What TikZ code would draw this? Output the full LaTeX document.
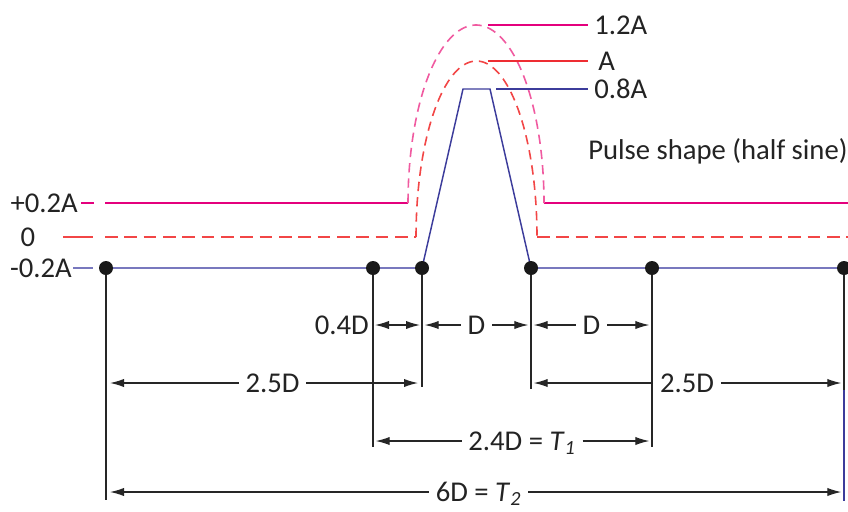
\documentclass[tikz,border=0pt]{standalone}
\usepackage{fontspec}
\setmainfont{Carlito}
\usetikzlibrary{arrows.meta}
\definecolor{mag}{RGB}{228,0,125}
\definecolor{magd}{RGB}{240,90,160}
\definecolor{redl}{RGB}{238,45,50}
\definecolor{redd}{RGB}{242,70,70}
\definecolor{blu}{RGB}{60,60,155}
\definecolor{blul}{RGB}{120,120,190}
\definecolor{txt}{RGB}{35,35,35}
\begin{document}
\begin{tikzpicture}[x=0.75pt,y=-0.75pt,
  font=\fontsize{21.5}{25}\selectfont,
  >={Latex[length=10.5pt,width=6.2pt]},
  lab/.style={inner sep=0pt,text=txt,text height=13.8pt,text depth=0pt},
  dimlab/.style={lab,inner xsep=5pt},
  dot/.style={circle,fill=black!90,inner sep=0pt,minimum size=10.5pt},
  ext/.style={draw=black!85,line width=0.8pt},
  dimarr/.style={->,draw=black!85,line width=0.9pt},
  dimarrb/.style={<->,draw=black!85,line width=0.9pt},
  cline/.style={line width=1.3pt},
  sdash/.style={cline,dash pattern=on 9.5pt off 5pt},
  cdash/.style={line width=1.2pt,dash pattern=on 7pt off 4.5pt}]
\useasboundingbox (0,0) rectangle (848,511);

% level coordinates
\coordinate (c1) at (106,268);
\coordinate (c2) at (373,268);
\coordinate (c3) at (422,268);
\coordinate (c4) at (531,268);
\coordinate (c5) at (652,268);
\coordinate (c6) at (844,268);
\coordinate (pk1) at (463,89);
\coordinate (pk2) at (490,89);

% rows
\coordinate (r1) at (0,325);
\coordinate (r2) at (0,383);
\coordinate (r3) at (0,441);
\coordinate (r4) at (0,492);

% left labels
\node[lab,anchor=east] (lp) at (78,203) {+0.2A};
\node[lab] (l0) at (28,237) {0};
\node[lab,anchor=east] (lm) at (72,268) {-0.2A};

% +0.2A magenta
\coordinate (ma) at (81,203);
\coordinate (mb) at (94,203);
\coordinate (mc) at (105,203);
\coordinate (md) at (408,203);
\coordinate (me) at (544,203);
\coordinate (mf) at (848,203);
\draw[mag,cline] (ma) -- (mb);
\draw[mag,cline] (mc) -- (md);
\draw[mag,cline] (me) -- (mf);
\draw[magd,cdash] plot[domain=180:0,samples=80] ({476+68*cos(\x)},{203-178*sin(\x)});

% 0 red
\coordinate (ra) at (63,237);
\coordinate (rb) at (93,237);
\coordinate (rc) at (105,237);
\coordinate (rd) at (416,237);
\coordinate (re) at (537,237);
\coordinate (rf) at (848,237);
\draw[redd,cline] (ra) -- (rb);
\draw[redd,sdash] (rc) -- (rd);
\draw[redd,sdash] (re) -- (rf);
\draw[redd,cdash] plot[domain=180:0,samples=80] ({476.5+60.5*cos(\x)},{237-176*sin(\x)});

% -0.2A blue
\coordinate (ba) at (73,268);
\coordinate (bb) at (93,268);
\draw[blul,cline] (ba) -- (bb);
\draw[blul,cline] (c1) -- (c2) -- (c3);
\draw[blul,cline] (c4) -- (c5) -- (c6);
\draw[blu,line width=1.1pt] (c3) -- (pk1) -- (pk2) -- (c4);

% pointer lines and labels
\node[lab,anchor=west] (l12) at (594,25) {1.2A};
\node[lab,anchor=west] (lA) at (598,61) {A};
\node[lab,anchor=west] (l08) at (594,89) {0.8A};
\coordinate (p12) at (488,25);
\coordinate (pA) at (488,61);
\coordinate (p08) at (496,89);
\draw[mag,line width=1.1pt] (p12) -- (l12.west -| 588,0);
\draw[redl,line width=1.1pt] (pA) -- (lA.west -| 588,0);
\draw[blu,line width=1.1pt] (p08) -- (l08.west -| 588,0);
\node[lab,anchor=west] (ps) at (588,150) {Pulse shape (half sine)};

% extension lines
\coordinate (e1) at (106,500);
\coordinate (e2) at (373,447);
\coordinate (e3) at (422,387);
\coordinate (e4) at (531,389);
\coordinate (e5) at (652,447);
\coordinate (e6m) at (844,390);
\coordinate (e6) at (844,501);
\draw[ext] (c1) -- (e1);
\draw[ext] (c2) -- (e2);
\draw[ext] (c3) -- (e3);
\draw[ext] (c4) -- (e4);
\draw[ext] (c5) -- (e5);
\draw[ext] (c6) -- (e6m);
\draw[blu,line width=1pt] (e6m) -- (e6);

% dots
\node[dot] (d1) at (c1) {};
\node[dot] (d2) at (c2) {};
\node[dot] (d3) at (c3) {};
\node[dot] (d4) at (c4) {};
\node[dot] (d5) at (c5) {};
\node[dot] (d6) at (c6) {};

% row 1
\node[lab,anchor=east] (t04) at (369,325) {0.4D};
\draw[dimarrb] ([xshift=1.5pt]c2 |- r1) -- ([xshift=-1.5pt]c3 |- r1);
\node[dimlab] (tD1) at (476.5,325) {D};
\draw[dimarr] (tD1.west |- r1) -- ([xshift=2pt]c3 |- r1);
\draw[dimarr] (tD1.east |- r1) -- ([xshift=-2pt]c4 |- r1);
\node[dimlab] (tD2) at (591.5,325) {D};
\draw[dimarr] (tD2.west |- r1) -- ([xshift=2pt]c4 |- r1);
\draw[dimarr] (tD2.east |- r1) -- ([xshift=-2pt]c5 |- r1);

% row 2
\node[dimlab] (t25a) at (272.5,383) {2.5D};
\draw[dimarr] (t25a.west |- r2) -- ([xshift=3pt]c1 |- r2);
\draw[dimarr] (t25a.east |- r2) -- ([xshift=-3pt]c3 |- r2);
\node[dimlab] (t25b) at (687,383) {2.5D};
\draw[dimarr] (t25b.west |- r2) -- ([xshift=2pt]c4 |- r2);
\draw[dimarr] (t25b.east |- r2) -- ([xshift=-2pt]c6 |- r2);

% row 3
\node[dimlab] (t24) at (522,441) {2.4D = \textit{T}\textsubscript{\itshape 1}};
\draw[dimarr] (t24.west |- r3) -- ([xshift=2pt]c2 |- r3);
\draw[dimarr] (t24.east |- r3) -- ([xshift=-2pt]c5 |- r3);

% row 4
\node[dimlab] (t6) at (478.5,492) {6D = \textit{T}\textsubscript{\itshape 2}};
\draw[dimarr] (t6.west |- r4) -- ([xshift=3pt]c1 |- r4);
\draw[dimarr] (t6.east |- r4) -- ([xshift=-2pt]c6 |- r4);
\end{tikzpicture}
\end{document}
